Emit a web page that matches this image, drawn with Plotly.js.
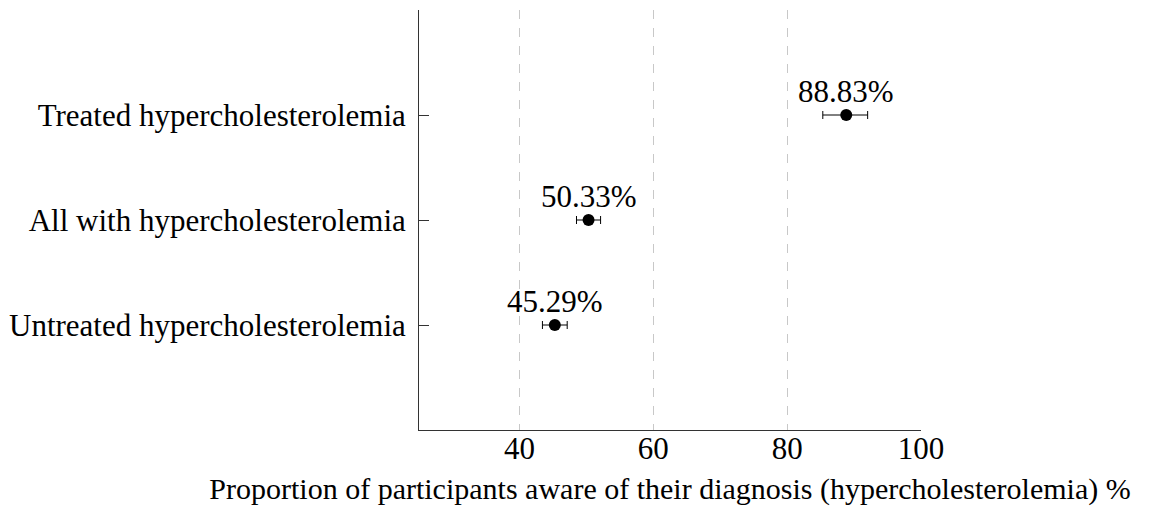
<!DOCTYPE html>
<html>
<head>
<meta charset="utf-8">
<script src="https://cdn.plot.ly/plotly-3.0.1.min.js"></script>
<style>html,body{margin:0;padding:0;background:#fff;}#chart{width:1152px;height:510px;}</style>
</head>
<body>
<div id="chart"></div>
<script>
const categories = ["Untreated hypercholesterolemia", "All with hypercholesterolemia", "Treated hypercholesterolemia"];
const values = [45.29, 50.33, 88.83];
const errPlus = [1.85, 1.8, 3.2];
const errMinus = [1.85, 1.8, 3.5];
const valueLabels = ["45.29%", "50.33%", "88.83%"];
const xTicks = [40, 60, 80, 100];

const serif = "Liberation Serif, Times New Roman, serif";

const trace = {
  type: "scatter",
  mode: "markers",
  x: values,
  y: categories,
  marker: {color: "#000", size: 12},
  error_x: {type: "data", symmetric: false, array: errPlus, arrayminus: errMinus,
            color: "#000", thickness: 1, width: 4},
  cliponaxis: false,
  hoverinfo: "none"
};

const annotations = values.map((v, i) => ({
  x: v, y: categories[i], xref: "x", yref: "y",
  text: valueLabels[i], showarrow: false,
  xanchor: "center", yanchor: "middle", yshift: 24,
  font: {family: serif, size: 31, color: "#000"}
}));

const layout = {
  width: 1152, height: 510,
  margin: {l: 419, r: 231, t: 10, b: 80},
  paper_bgcolor: "#fff", plot_bgcolor: "#fff",
  showlegend: false,
  font: {family: serif, size: 31, color: "#000"},
  annotations: annotations,
  xaxis: {
    range: [25, 100],
    tickvals: xTicks,
    ticktext: xTicks.map(String),
    showgrid: true,
    gridcolor: "#c8c8c8",
    griddash: "dash",
    gridwidth: 1,
    zeroline: false,
    showline: true,
    linecolor: "#333",
    linewidth: 1,
    ticks: "",
    ticklabelstandoff: -9,
    tickfont: {family: serif, size: 31, color: "#000"},
    title: {text: "Proportion of participants aware of their diagnosis (hypercholesterolemia) %",
            font: {family: serif, size: 30, color: "#000"}, standoff: 12}
  },
  yaxis: {
    type: "category",
    categoryorder: "array",
    categoryarray: categories,
    range: [-1, 3],
    showgrid: false,
    zeroline: false,
    showline: true,
    linecolor: "#333",
    linewidth: 1,
    ticks: "inside",
    ticklen: 10,
    tickcolor: "#333",
    ticklabelstandoff: 6,
    tickfont: {family: serif, size: 31, color: "#000"}
  }
};

Plotly.newPlot("chart", [trace], layout, {displayModeBar: false, staticPlot: true});
</script>
</body>
</html>
